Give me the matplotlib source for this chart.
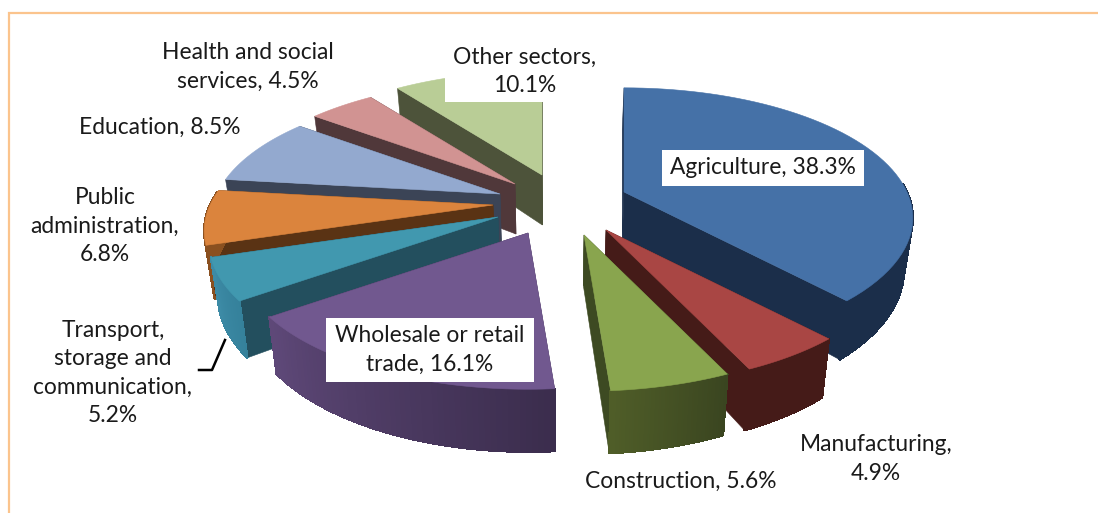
import numpy as np
import matplotlib
matplotlib.use("Agg")
import matplotlib.pyplot as plt
from matplotlib.collections import PolyCollection
from matplotlib.patches import Polygon, Rectangle

sectors = ["Agriculture", "Manufacturing", "Construction", "Wholesale or retail trade",
           "Transport, storage and communication", "Public administration",
           "Education", "Health and social services", "Other sectors"]
shares = [38.3, 4.9, 5.6, 16.1, 5.2, 6.8, 8.5, 4.5, 10.1]

label_texts = ["Agriculture, 38.3%", "Manufacturing,\n4.9%", "Construction, 5.6%",
               "Wholesale or retail\ntrade, 16.1%", "Transport,\nstorage and\ncommunication,\n5.2%",
               "Public\nadministration,\n6.8%", "Education, 8.5%",
               "Health and social\nservices, 4.5%", "Other sectors,\n10.1%"]

# styles and layout (pixels)
top_cols = ["#4571a7", "#a94644", "#89a54e", "#71588f", "#4198af", "#db843d", "#93a9cf", "#d19392", "#b9cd96"]
face_cols = ["#1b2e4a", "#451b18", "#3d4a22", "#3f2f52", "#234f5e", "#5a3314", "#3b4456", "#50383a", "#4d533a"]
wall_a = ["#1b2e4a", "#451b18", "#3a4520", "#3b2d4d", "#35819b", "#8a5020", "#3b4456", "#50383a", "#4d533a"]
wall_b = ["#1b2e4a", "#451b18", "#4f5d28", "#5e4878", "#3d8ba6", "#8a5020", "#3b4456", "#50383a", "#4d533a"]
explode = [(79, -23), (61, 15), (39, 20), (-17, 18), (-47, 2), (-52, -10), (-45, -21), (-30, -31), (-3, -40)]
label_pos = [(763, 168), (876, 459), (681, 481), (430, 350), (113, 373),
             (105, 226), (160, 127), (248, 67), (525, 71)]
boxes = {0: (662, 150, 202, 36), 3: (326, 318, 208, 64), 8: (445, 42, 160, 60)}
draw_order = [8, 7, 6, 5, 4, 3, 0, 1, 2]

CX, CY, RX, RY, PERSP, DEPTH = 545, 215, 283, 125, 0.20, 50
VX, SHRINK = 555, 0.025
START = 0.0

plt.rcParams["font.family"] = ["Lato", "DejaVu Sans"]
fig = plt.figure(figsize=(10.98, 5.13), dpi=100)
ax = fig.add_axes([0, 0, 1, 1])
ax.set_xlim(0, 1098)
ax.set_ylim(513, 0)
ax.axis("off")

ax.plot([9, 9, 1098], [513, 13, 13], color="#fbc48d", lw=1.6, solid_joinstyle="miter")


def project(theta, ox, oy):
    t = np.radians(theta)
    s = 1 / (1 + PERSP * np.cos(t))
    return ox + RX * np.sin(t) * s, oy - RY * np.cos(t) * s, s


def lower(x, y, s):
    return x + (VX - x) * SHRINK, y + DEPTH * s


edges = np.concatenate([[0], np.cumsum(shares)]) / np.sum(shares) * 360 + START

for i in draw_order:
    ox, oy = CX + explode[i][0], CY + explode[i][1]
    th = np.linspace(edges[i], edges[i + 1], 60)
    x, y, s = project(th, ox, oy)
    bx, by = lower(x, y, s)
    ax0, ay0 = lower(ox, oy, 1.0)
    # radial faces
    for k in (0, -1):
        ax.add_patch(Polygon([(ox, oy), (x[k], y[k]), (bx[k], by[k]), (ax0, ay0)],
                             closed=True, fc=face_cols[i], ec=face_cols[i], lw=0.4))
    # outer wall, shaded along the arc; only the part turned towards the viewer
    front = [j for j in range(len(th) - 1) if np.cos(np.radians(th[j])) < 0.1]
    quads = [[(x[j], y[j]), (x[j + 1], y[j + 1]), (bx[j + 1], by[j + 1]), (bx[j], by[j])]
             for j in front]
    c0, c1 = np.array(matplotlib.colors.to_rgb(wall_a[i])), np.array(matplotlib.colors.to_rgb(wall_b[i]))
    cols = [c0 + (c1 - c0) * f for f in np.linspace(0, 1, max(len(quads), 1))]
    if quads:
        ax.add_collection(PolyCollection(quads, facecolors=cols, edgecolors=cols, linewidths=1.0,
                                         antialiaseds=False))
    # top
    ax.add_patch(Polygon(np.column_stack([np.r_[ox, x], np.r_[oy, y]]), closed=True,
                         fc=top_cols[i], ec=top_cols[i], lw=0.4))

ax.plot([199, 212, 225], [370, 370, 340], color="black", lw=1.8)

for i, (bx0, by0, w, h) in boxes.items():
    ax.add_patch(Rectangle((bx0, by0), w, h, fc="white", ec="none", zorder=3))

for i, txt in enumerate(label_texts):
    ax.text(label_pos[i][0], label_pos[i][1], txt, ha="center", va="center", fontsize=16.4,
            linespacing=1.42, color="#1a1a1a", zorder=4)

fig.savefig("out.png", dpi=100)
